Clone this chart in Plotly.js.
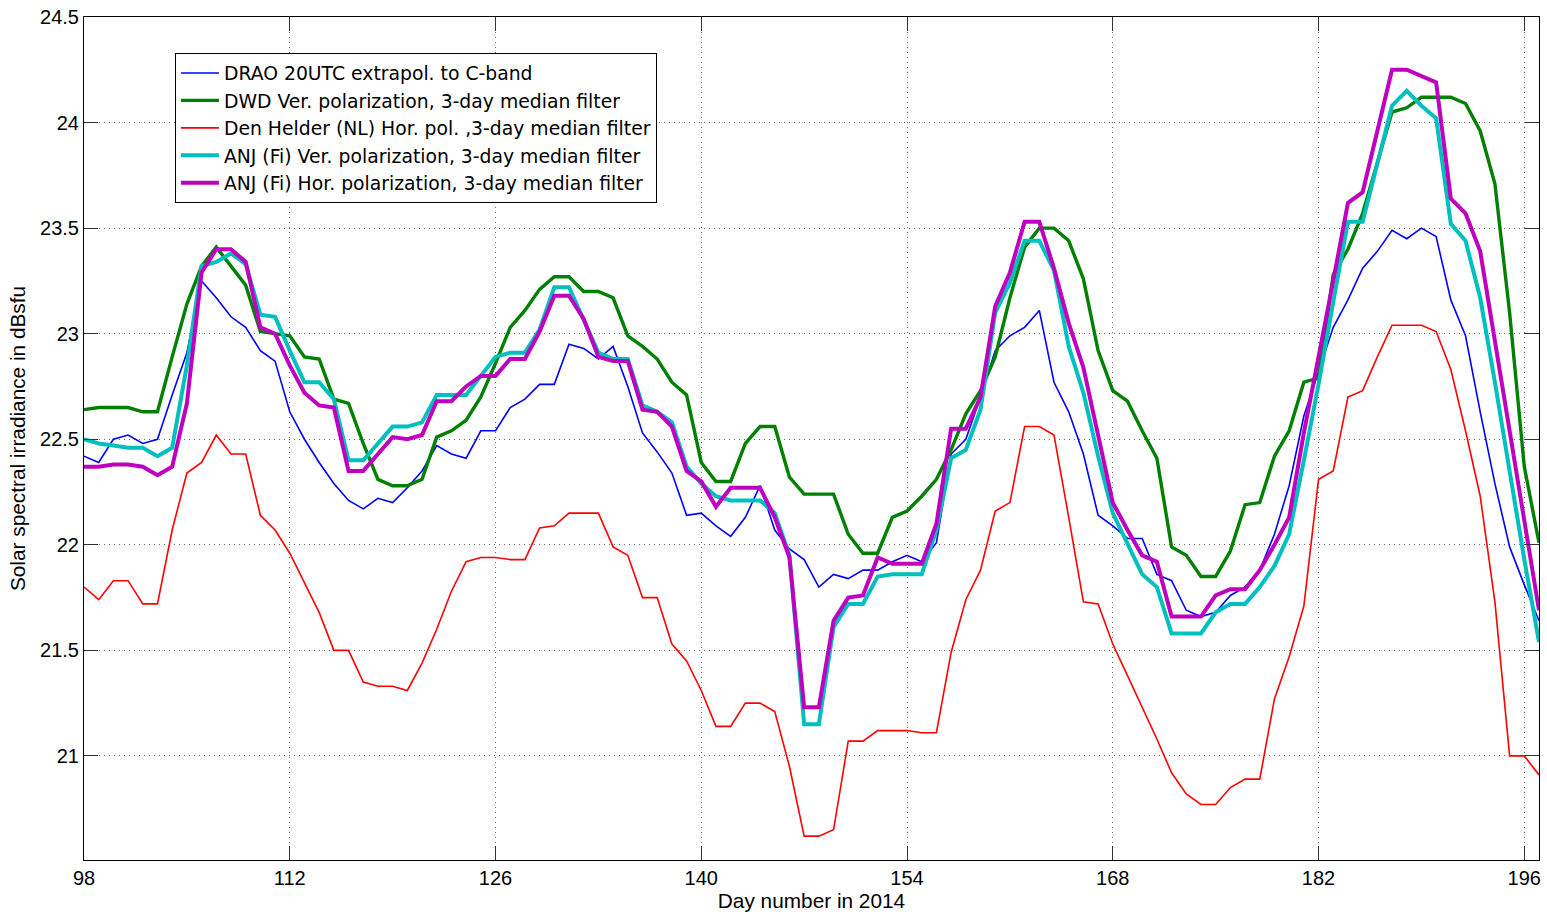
<!DOCTYPE html>
<html>
<head>
<meta charset="utf-8">
<script src="https://cdn.plot.ly/plotly-3.0.1.min.js"></script>
<style>
  html, body { margin: 0; padding: 0; background: #fff; }
  #chart { width: 1547px; height: 912px; }
</style>
</head>
<body>
<div id="chart"></div>
<script>
const days = [98,99,100,101,102,103,104,105,106,107,108,109,110,111,112,113,114,115,116,117,
  118,119,120,121,122,123,124,125,126,127,128,129,130,131,132,133,134,135,136,137,
  138,139,140,141,142,143,144,145,146,147,148,149,150,151,152,153,154,155,156,157,
  158,159,160,161,162,163,164,165,166,167,168,169,170,171,172,173,174,175,176,177,
  178,179,180,181,182,183,184,185,186,187,188,189,190,191,192,193,194,195,196,197];

const drao = [22.42,22.39,22.50,22.52,22.48,22.50,22.71,22.91,23.25,23.17,
  23.08,23.03,22.92,22.87,22.63,22.50,22.39,22.29,22.21,22.17,
  22.22,22.20,22.27,22.35,22.47,22.43,22.41,22.54,22.54,22.65,
  22.69,22.76,22.76,22.95,22.93,22.88,22.94,22.75,22.53,22.44,
  22.34,22.14,22.15,22.09,22.04,22.13,22.28,22.07,21.98,21.93,
  21.80,21.86,21.84,21.88,21.88,21.92,21.95,21.92,22.01,22.43,
  22.50,22.70,22.92,22.99,23.03,23.11,22.77,22.63,22.43,22.14,
  22.09,22.03,22.03,21.86,21.83,21.69,21.66,21.68,21.76,21.80,
  21.88,22.05,22.28,22.61,22.82,23.03,23.16,23.31,23.39,23.49,
  23.45,23.50,23.46,23.16,22.99,22.63,22.29,21.99,21.81,21.64];

const dwd = [22.64,22.65,22.65,22.65,22.63,22.63,22.89,23.14,23.32,23.41,
  23.32,23.23,23.01,23.00,22.99,22.89,22.88,22.69,22.67,22.48,
  22.31,22.28,22.28,22.31,22.51,22.54,22.59,22.70,22.86,23.03,
  23.11,23.21,23.27,23.27,23.20,23.20,23.17,22.99,22.94,22.88,
  22.77,22.71,22.39,22.30,22.30,22.48,22.56,22.56,22.32,22.24,
  22.24,22.24,22.05,21.96,21.96,22.13,22.16,22.23,22.31,22.45,
  22.62,22.73,22.89,23.17,23.41,23.50,23.50,23.44,23.26,22.92,
  22.73,22.68,22.54,22.41,21.99,21.95,21.85,21.85,21.97,22.19,
  22.20,22.42,22.54,22.77,22.79,23.28,23.40,23.57,23.81,24.05,
  24.07,24.12,24.12,24.12,24.09,23.96,23.71,23.10,22.37,22.01];

const denHelder = [21.80,21.74,21.83,21.83,21.72,21.72,22.07,22.34,22.39,22.52,
  22.43,22.43,22.14,22.07,21.96,21.82,21.68,21.50,21.50,21.35,
  21.33,21.33,21.31,21.44,21.60,21.78,21.92,21.94,21.94,21.93,
  21.93,22.08,22.09,22.15,22.15,22.15,21.99,21.95,21.75,21.75,
  21.53,21.45,21.31,21.14,21.14,21.25,21.25,21.21,20.95,20.62,
  20.62,20.65,21.07,21.07,21.12,21.12,21.12,21.11,21.11,21.49,
  21.74,21.88,22.16,22.20,22.56,22.56,22.52,22.13,21.73,21.72,
  21.53,21.38,21.23,21.08,20.92,20.82,20.77,20.77,20.85,20.89,
  20.89,21.27,21.47,21.71,22.31,22.35,22.70,22.73,22.89,23.04,
  23.04,23.04,23.01,22.83,22.54,22.23,21.73,21.00,21.00,20.91];

const anjVer = [22.50,22.48,22.47,22.46,22.46,22.42,22.46,22.85,23.32,23.34,
  23.38,23.33,23.09,23.08,22.92,22.77,22.77,22.69,22.40,22.40,
  22.48,22.56,22.56,22.58,22.71,22.71,22.71,22.80,22.89,22.91,
  22.91,23.02,23.22,23.22,23.07,22.91,22.88,22.88,22.66,22.63,
  22.58,22.37,22.29,22.23,22.21,22.21,22.21,22.15,21.95,21.15,
  21.15,21.61,21.72,21.72,21.85,21.86,21.86,21.86,22.07,22.41,
  22.45,22.64,23.10,23.24,23.44,23.44,23.30,22.94,22.72,22.42,
  22.15,22.01,21.86,21.80,21.58,21.58,21.58,21.68,21.72,21.72,
  21.80,21.90,22.05,22.40,22.76,23.15,23.53,23.53,23.81,24.08,
  24.15,24.08,24.02,23.52,23.44,23.17,22.77,22.35,21.93,21.54];

const anjHor = [22.37,22.37,22.38,22.38,22.37,22.33,22.37,22.67,23.29,23.40,
  23.40,23.34,23.03,23.00,22.85,22.72,22.66,22.65,22.35,22.35,
  22.43,22.51,22.50,22.52,22.68,22.68,22.75,22.80,22.80,22.88,
  22.88,23.01,23.18,23.18,23.07,22.89,22.87,22.87,22.64,22.63,
  22.56,22.35,22.30,22.18,22.27,22.27,22.27,22.13,21.94,21.23,
  21.23,21.64,21.75,21.76,21.94,21.91,21.91,21.91,22.10,22.55,
  22.55,22.70,23.13,23.29,23.53,23.53,23.31,23.05,22.84,22.53,
  22.20,22.07,21.95,21.92,21.66,21.66,21.66,21.76,21.79,21.79,
  21.88,22.00,22.13,22.53,22.88,23.25,23.62,23.67,23.96,24.25,
  24.25,24.22,24.19,23.64,23.57,23.39,22.96,22.54,22.11,21.69];

const names = [
  'DRAO 20UTC extrapol. to C-band',
  'DWD Ver. polarization, 3-day median filter',
  'Den Helder (NL) Hor. pol. ,3-day median filter',
  'ANJ (Fi) Ver. polarization, 3-day median filter',
  'ANJ (Fi) Hor. polarization, 3-day median filter'
];
const xTicks = [98,112,126,140,154,168,182,196];
const yTicks = [21,21.5,22,22.5,23,23.5,24,24.5];
const yTickText = ['21','21.5','22','22.5','23','23.5','24','24.5'];

const series = [drao, dwd, denHelder, anjVer, anjHor];
const colors = ['#0000FF','#008000','#FF0000','#00BFBF','#BF00BF'];
const widths = [1.6, 3.4, 1.6, 4, 4];

const traces = series.map((s, i) => ({
  x: days, y: s, type: 'scatter', mode: 'lines', name: names[i],
  line: {color: colors[i], width: widths[i]}
}));

const fontFam = 'Liberation Sans, Arial, Helvetica, sans-serif';
const layout = {
  width: 1547, height: 912,
  margin: {l: 84, r: 8, t: 17, b: 52},
  paper_bgcolor: '#fff', plot_bgcolor: '#fff',
  font: {family: fontFam, size: 20, color: '#000'},
  showlegend: true,
  legend: {
    x: 0.0625, y: 0.957, xanchor: 'left', yanchor: 'top',
    bgcolor: '#fff', bordercolor: '#000', borderwidth: 1,
    font: {family: 'DejaVu Sans, Liberation Sans, sans-serif', size: 18.8, color: '#000'},
    traceorder: 'normal', itemwidth: 38
  },
  xaxis: {
    range: [98, 197], tickvals: xTicks, ticktext: xTicks.map(String),
    ticks: 'inside', ticklen: 14, tickcolor: '#333', tickwidth: 1,
    showline: true, linecolor: '#000', linewidth: 1, mirror: 'ticks',
    showgrid: true, gridcolor: '#666', griddash: '1px,4px', gridwidth: 1,
    zeroline: false, tickfont: {size: 20},
    title: {text: 'Day number in 2014', font: {size: 20.8}, standoff: 6}
  },
  yaxis: {
    range: [20.507, 24.5], tickvals: yTicks, ticktext: yTickText,
    ticks: 'inside', ticklen: 14, tickcolor: '#333', tickwidth: 1,
    showline: true, linecolor: '#000', linewidth: 1, mirror: 'ticks',
    showgrid: true, gridcolor: '#666', griddash: '1px,4px', gridwidth: 1,
    zeroline: false, tickfont: {size: 20},
    title: {text: 'Solar spectral irradiance in dBsfu', font: {size: 20.8}, standoff: 8}
  }
};

Plotly.newPlot('chart', traces, layout, {staticPlot: true, displayModeBar: false});
</script>
</body>
</html>
